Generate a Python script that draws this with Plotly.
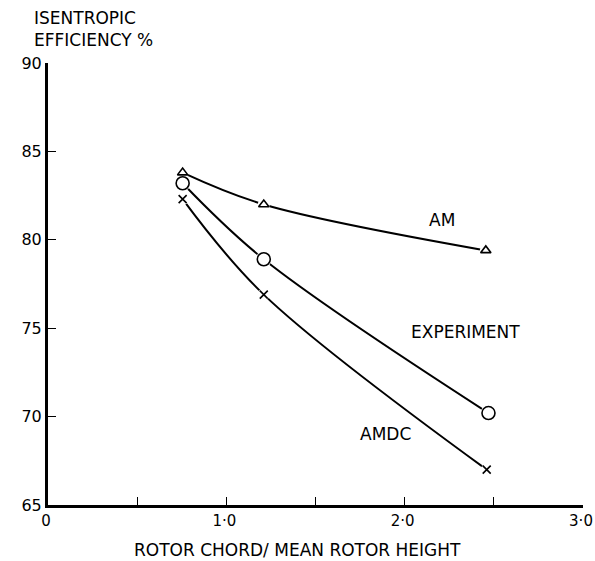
import plotly.graph_objects as go

# Data
x_am = [0.755, 1.21, 2.455]
y_am = [83.8, 82.0, 79.4]
x_exp = [0.755, 1.21, 2.47]
y_exp = [83.2, 78.9, 70.2]
x_amdc = [0.755, 1.21, 2.46]
y_amdc = [82.3, 76.9, 67.0]

x_tickvals = [0, 0.5, 1.0, 1.5, 2.0, 2.5, 3.0]
x_ticktext = ["0", "", "1·0", "", "2·0", "", "3·0"]
y_tickvals = [65, 70, 75, 80, 85, 90]
y_ticktext = ["65", "70", "75", "80", "85", "90"]

series_labels = ["AM", "EXPERIMENT", "AMDC"]
label_x = [2.21, 2.34, 1.89]
label_y = [81.1, 74.8, 69.0]

FONT = "DejaVu Sans"

fig = go.Figure()

series = [
    (x_am, y_am, "triangle-up-open", 9, 12),
    (x_exp, y_exp, "circle-open", 13, 16),
    (x_amdc, y_amdc, "x-thin-open", 8, 12),
]

# lines
for xs, ys, _, _, _ in series:
    fig.add_trace(go.Scatter(x=xs, y=ys, mode="lines",
                             line=dict(color="black", width=2, shape="spline", smoothing=1.0),
                             showlegend=False, hoverinfo="skip"))
# white masks to create gaps near markers
for xs, ys, _, _, gap in series:
    fig.add_trace(go.Scatter(x=xs, y=ys, mode="markers",
                             marker=dict(symbol="circle", size=gap, color="white"),
                             showlegend=False, hoverinfo="skip"))
# markers
for xs, ys, sym, size, _ in series:
    fig.add_trace(go.Scatter(x=xs, y=ys, mode="markers",
                             marker=dict(symbol=sym, size=size, color="black",
                                         line=dict(color="black", width=1.6)),
                             showlegend=False))

for t, lx, ly in zip(series_labels, label_x, label_y):
    fig.add_annotation(x=lx, y=ly, text=t, showarrow=False,
                       font=dict(family=FONT, size=17, color="black"))

fig.add_annotation(xref="paper", yref="paper", x=-0.03, y=1.025, xanchor="left", yanchor="bottom",
                   text="ISENTROPIC<br>EFFICIENCY %", align="left", showarrow=False,
                   font=dict(family=FONT, size=17, color="black"))
fig.add_annotation(xref="paper", yref="paper", x=0.467, y=-0.075, xanchor="center", yanchor="top",
                   text="ROTOR CHORD/ MEAN ROTOR HEIGHT", showarrow=False,
                   font=dict(family=FONT, size=17, color="black"))

fig.update_xaxes(range=[0, 3.0], tickvals=x_tickvals, ticktext=x_ticktext,
                 showline=True, linecolor="black", linewidth=3, mirror=False,
                 ticks="inside", ticklen=8, tickwidth=1.2, tickcolor="black",
                 showgrid=False, zeroline=False, automargin=False,
                 ticklabeloverflow="allow", ticklabelshift=-2,
                 tickfont=dict(family=FONT, size=15, color="black"))
fig.update_yaxes(range=[65, 90], tickvals=y_tickvals, ticktext=y_ticktext,
                 showline=True, linecolor="black", linewidth=3, mirror=False,
                 ticks="inside", ticklen=8, tickwidth=1.2, tickcolor="black",
                 showgrid=False, zeroline=False, automargin=False,
                 tickfont=dict(family=FONT, size=16, color="black"))

fig.update_layout(width=595, height=561, plot_bgcolor="white", paper_bgcolor="white",
                  margin=dict(l=48, r=12, t=63, b=56, autoexpand=False), showlegend=False)

# remove the browser's default 8px body margin so the figure fills the window exactly
fig.write_html("out.html", config={"displayModeBar": False},
               post_script="document.body.style.margin='0';document.body.style.overflow='hidden';")
